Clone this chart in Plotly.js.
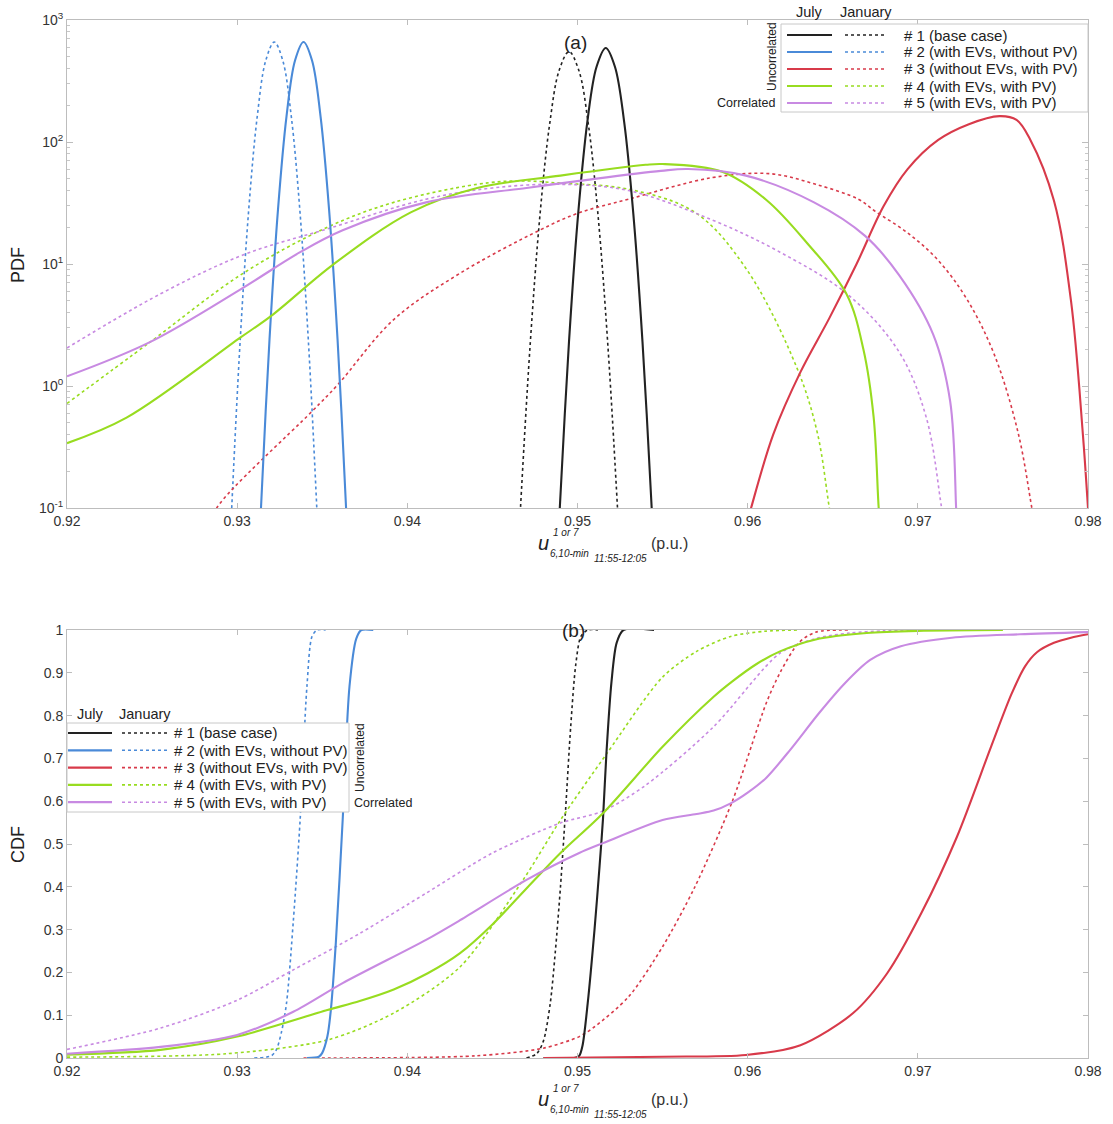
<!DOCTYPE html>
<html><head><meta charset="utf-8">
<script src="https://cdn.plot.ly/plotly-3.0.1.min.js"></script>
<style>body{margin:0;background:#fff}#chart{width:1113px;height:1124px}</style>
</head><body><div id="chart"></div>
<script>
// ---------------- DATA ----------------
const scenarioLabels = ['# 1 (base case)', '# 2 (with EVs, without PV)', '# 3 (without EVs, with PV)', '# 4 (with EVs, with PV)', '# 5 (with EVs, with PV)'];
const monthLabels = ['July', 'January'];
const xTicks = [0.92, 0.93, 0.94, 0.95, 0.96, 0.97, 0.98];
const cdfTicks = [0, 0.1, 0.2, 0.3, 0.4, 0.5, 0.6, 0.7, 0.8, 0.9, 1];
const pdfTicks = [0.1, 1, 10, 100, 1000];
const pdfTickText = ['10<sup>-1</sup>', '10<sup>0</sup>', '10<sup>1</sup>', '10<sup>2</sup>', '10<sup>3</sup>'];
const pdfMinorTicks = [0.2, 0.3, 0.4, 0.5, 0.6, 0.7, 0.8, 0.9, 2, 3, 4, 5, 6, 7, 8, 9, 20, 30, 40, 50, 60, 70, 80, 90, 200, 300, 400, 500, 600, 700, 800, 900];

// PDF (a) - July (solid)
const pdf1JulX = [0.94871, 0.94896, 0.9495, 0.95004, 0.95058, 0.95112, 0.95166, 0.9522, 0.95274, 0.95328, 0.95382, 0.95436, 0.95461];
const pdf1JulY = [0.021, 0.1, 2.3, 25.9, 147, 414, 590, 414, 147, 25.9, 2.3, 0.1, 0.021];
const pdf2JulX = [0.9312, 0.9314, 0.9319, 0.9324, 0.9329, 0.9334, 0.9339, 0.9344, 0.9349, 0.9354, 0.9359, 0.9364, 0.9366];
const pdf2JulY = [0.023, 0.1, 2.4, 28, 162, 465, 660, 465, 162, 28, 2.4, 0.1, 0.023];
const pdf3JulX = [0.9599, 0.9602, 0.9615, 0.9631, 0.9648, 0.9664, 0.968, 0.9694, 0.9712, 0.973, 0.9748, 0.9758, 0.9766, 0.978, 0.979, 0.9797, 0.98, 0.9801];
const pdf3JulY = [0.07, 0.1, 0.4, 1.3, 3.6, 10, 30, 60, 104, 140, 163, 152, 105, 33, 5, 0.4, 0.1, 0.06];
const pdf4JulX = [0.92, 0.9235, 0.9302, 0.9321, 0.9356, 0.9402, 0.9441, 0.949, 0.954, 0.955, 0.9585, 0.9611, 0.9635, 0.9658, 0.9668, 0.9674, 0.9677, 0.9678];
const pdf4JulY = [0.34, 0.55, 2.5, 3.85, 9.8, 26.5, 42, 53, 65, 66, 57, 33.5, 14.8, 5.7, 2.0, 0.56, 0.1, 0.07];
const pdf5JulX = [0.92, 0.9249, 0.9302, 0.9337, 0.9362, 0.9411, 0.947, 0.9501, 0.9549, 0.9565, 0.9599, 0.9639, 0.9669, 0.9689, 0.9709, 0.9719, 0.97225, 0.9723];
const pdf5JulY = [1.2, 2.3, 6.2, 12.5, 18.9, 32, 42, 48, 58, 60, 53, 32, 17, 8.1, 2.65, 0.75, 0.1, 0.07];

// PDF (a) - January (dotted)
const pdf1JanX = [0.9464, 0.94665, 0.94722, 0.94779, 0.94836, 0.94893, 0.9495, 0.95007, 0.95064, 0.95121, 0.95178, 0.95235, 0.9526];
const pdf1JanY = [0.021, 0.1, 2.2, 24.8, 139, 390, 550, 390, 139, 24.8, 2.2, 0.1, 0.021];
const pdf2JanX = [0.92948, 0.92968, 0.93018, 0.93068, 0.93118, 0.93168, 0.93218, 0.93268, 0.93318, 0.93368, 0.93418, 0.93468, 0.93488];
const pdf2JanY = [0.023, 0.1, 2.4, 28, 162, 465, 660, 465, 162, 28, 2.4, 0.1, 0.023];
const pdf3JanX = [0.9286, 0.9288, 0.9344, 0.9359, 0.9392, 0.9431, 0.9478, 0.95, 0.953, 0.9579, 0.9613, 0.964, 0.9665, 0.9675, 0.9694, 0.9712, 0.9729, 0.9745, 0.9759, 0.9767, 0.9769];
const pdf3JanY = [0.08, 0.1, 0.62, 1.02, 3.5, 8.4, 19, 26, 34, 51, 55, 45, 34, 27, 18, 10.7, 5.1, 1.8, 0.41, 0.1, 0.07];
const pdf4JanX = [0.92, 0.9249, 0.9303, 0.9353, 0.9392, 0.9441, 0.9465, 0.949, 0.953, 0.9569, 0.9599, 0.9629, 0.9641, 0.9648, 0.965];
const pdf4JanY = [0.72, 2.3, 8.3, 20, 32, 45, 48, 46, 41, 26.5, 9.2, 1.4, 0.41, 0.1, 0.07];
const pdf5JanX = [0.92, 0.9255, 0.9303, 0.9353, 0.9411, 0.945, 0.949, 0.953, 0.9579, 0.9619, 0.9659, 0.9689, 0.9705, 0.9714, 0.9716];
const pdf5JanY = [2.05, 5.7, 11.8, 19.4, 34, 42, 45, 40, 23, 12.5, 5.6, 1.9, 0.55, 0.1, 0.07];

// CDF (b) - July (solid)
const cdf1JulX = [0.948, 0.9498, 0.9501, 0.9503, 0.9506, 0.951, 0.9513, 0.9515, 0.9517, 0.952, 0.9523, 0.9527, 0.9545];
const cdf1JulY = [0, 0, 0.005, 0.03, 0.128, 0.3, 0.45, 0.56, 0.712, 0.88, 0.97, 1.0, 1.0];
const cdf2JulX = [0.9341, 0.9348, 0.935, 0.9353, 0.9355, 0.9358, 0.9362, 0.9366, 0.937, 0.9373, 0.938];
const cdf2JulY = [0, 0.003, 0.012, 0.05, 0.11, 0.27, 0.556, 0.868, 0.98, 1.0, 1.0];
const cdf3JulX = [0.948, 0.955, 0.9599, 0.9631, 0.9662, 0.9682, 0.9702, 0.9723, 0.9743, 0.9755, 0.9763, 0.977, 0.978, 0.979, 0.98];
const cdf3JulY = [0, 0.003, 0.007, 0.03, 0.105, 0.198, 0.338, 0.517, 0.727, 0.85, 0.915, 0.948, 0.97, 0.982, 0.99];
const cdf4JulX = [0.92, 0.9255, 0.93, 0.9353, 0.9372, 0.9392, 0.9412, 0.9431, 0.945, 0.947, 0.949, 0.9515, 0.955, 0.958, 0.9591, 0.9605, 0.9619, 0.964, 0.967, 0.97, 0.975];
const cdf4JulY = [0.008, 0.019, 0.05, 0.112, 0.133, 0.16, 0.198, 0.245, 0.312, 0.396, 0.479, 0.572, 0.727, 0.844, 0.88, 0.92, 0.95, 0.978, 0.993, 0.998, 1.0];
const cdf5JulX = [0.92, 0.9255, 0.93, 0.9333, 0.9362, 0.9411, 0.9431, 0.947, 0.9501, 0.9515, 0.955, 0.957, 0.958, 0.959, 0.96, 0.9611, 0.9625, 0.9642, 0.9657, 0.9672, 0.969, 0.972, 0.976, 0.98];
const cdf5JulY = [0.01, 0.026, 0.054, 0.108, 0.175, 0.276, 0.322, 0.416, 0.479, 0.502, 0.556, 0.57, 0.578, 0.595, 0.62, 0.655, 0.72, 0.806, 0.875, 0.93, 0.962, 0.982, 0.99, 0.995];

// CDF (b) - January (dotted)
const cdf1JanX = [0.947, 0.9476, 0.948, 0.9484, 0.9487, 0.949, 0.9493, 0.9496, 0.9499, 0.9502, 0.9506, 0.9512];
const cdf1JanY = [0, 0.01, 0.04, 0.128, 0.25, 0.4, 0.58, 0.774, 0.92, 0.985, 1.0, 1.0];
const cdf2JanX = [0.931, 0.932, 0.9323, 0.9326, 0.9329, 0.9333, 0.9337, 0.9341, 0.9344, 0.9347, 0.9352];
const cdf2JanY = [0, 0.005, 0.019, 0.06, 0.128, 0.32, 0.556, 0.868, 0.985, 1.0, 1.0];
const cdf3JanX = [0.9339, 0.944, 0.948, 0.9501, 0.951, 0.953, 0.955, 0.9569, 0.9591, 0.9611, 0.9619, 0.963, 0.964, 0.966];
const cdf3JanY = [0, 0.005, 0.023, 0.05, 0.073, 0.143, 0.26, 0.4, 0.6, 0.83, 0.9, 0.97, 0.995, 1.0];
const cdf4JanX = [0.92, 0.9294, 0.9353, 0.9392, 0.9431, 0.9468, 0.949, 0.9517, 0.955, 0.957, 0.959, 0.961, 0.963];
const cdf4JanY = [0.002, 0.01, 0.042, 0.105, 0.213, 0.416, 0.556, 0.71, 0.89, 0.95, 0.985, 0.997, 1.0];
const cdf5JanX = [0.92, 0.9255, 0.93, 0.9333, 0.9372, 0.9411, 0.945, 0.949, 0.9515, 0.954, 0.958, 0.9619, 0.964, 0.966, 0.968, 0.97];
const cdf5JanY = [0.02, 0.07, 0.135, 0.206, 0.291, 0.385, 0.479, 0.549, 0.577, 0.637, 0.774, 0.946, 0.98, 0.993, 0.998, 1.0];

// ---------------- STYLE ----------------
const colors = ['#222222', '#4a8ad8', '#d83a4a', '#98dc20', '#c88ae2'];
const FONT = 'Liberation Sans, Arial, sans-serif';

const pdfJul = [[pdf1JulX, pdf1JulY], [pdf2JulX, pdf2JulY], [pdf3JulX, pdf3JulY], [pdf4JulX, pdf4JulY], [pdf5JulX, pdf5JulY]];
const pdfJan = [[pdf1JanX, pdf1JanY], [pdf2JanX, pdf2JanY], [pdf3JanX, pdf3JanY], [pdf4JanX, pdf4JanY], [pdf5JanX, pdf5JanY]];
const cdfJul = [[cdf1JulX, cdf1JulY], [cdf2JulX, cdf2JulY], [cdf3JulX, cdf3JulY], [cdf4JulX, cdf4JulY], [cdf5JulX, cdf5JulY]];
const cdfJan = [[cdf1JanX, cdf1JanY], [cdf2JanX, cdf2JanY], [cdf3JanX, cdf3JanY], [cdf4JanX, cdf4JanY], [cdf5JanX, cdf5JanY]];

const traces = [];
function addTrace(d, i, dotted, xa, ya, smooth) {
  traces.push({
    x: d[0], y: d[1], xaxis: xa, yaxis: ya, type: 'scatter', mode: 'lines',
    name: scenarioLabels[i] + ' ' + (dotted ? monthLabels[1] : monthLabels[0]),
    showlegend: false, hoverinfo: 'skip',
    line: {color: colors[i], width: dotted ? 1.6 : 2.1, dash: dotted ? 'dot' : 'solid', shape: 'spline', smoothing: smooth}
  });
}
for (let i = 0; i < 5; i++) addTrace(pdfJan[i], i, true, 'x', 'y', 1);
for (let i = 0; i < 5; i++) addTrace(pdfJul[i], i, false, 'x', 'y', 1);
for (let i = 0; i < 5; i++) addTrace(cdfJan[i], i, true, 'x2', 'y2', 0.8);
for (let i = 0; i < 5; i++) addTrace(cdfJul[i], i, false, 'x2', 'y2', 0.8);

// ---------------- LAYOUT HELPERS ----------------
const W = 1113, H = 1124;
const M = {l: 67, r: 25, t: 20, b: 66};
const PW = W - M.l - M.r, PH = H - M.t - M.b;
const px = v => (v - M.l) / PW;
const py = v => (H - M.b - v) / PH;
const topBottomPx = 508, botTopPx = 630;

const shapes = [], annotations = [];
function text(t, x, y, opts) {
  annotations.push(Object.assign({text: t, x: px(x), y: py(y), xref: 'paper', yref: 'paper', showarrow: false,
    xanchor: 'left', yanchor: 'middle', font: {family: FONT, size: 14, color: '#222'}}, opts || {}));
}
function seg(x0, x1, y, color, dotted, width) {
  shapes.push({type: 'line', xref: 'paper', yref: 'paper', x0: px(x0), x1: px(x1), y0: py(y), y1: py(y),
    line: {color: color, width: width, dash: dotted ? 'dot' : 'solid'}});
}
function legend(box, hdrY, rowY0, rowDy, solidX, dotX, textX, uncX, uncY, corX, corY, corAnchor) {
  shapes.push({type: 'rect', xref: 'paper', yref: 'paper', x0: px(box[0]), x1: px(box[1]), y0: py(box[2]), y1: py(box[3]),
    fillcolor: '#ffffff', line: {color: '#c8c8c8', width: 1}, layer: 'above'});
  text(monthLabels[0], solidX[0] + (solidX[1] - solidX[0]) / 2, hdrY, {xanchor: 'center', font: {family: FONT, size: 14.5, color: '#222'}});
  text(monthLabels[1], dotX[0] + (dotX[1] - dotX[0]) / 2, hdrY, {xanchor: 'center', font: {family: FONT, size: 14.5, color: '#222'}});
  for (let i = 0; i < 5; i++) {
    const y = rowY0 + i * rowDy;
    seg(solidX[0], solidX[1], y, colors[i], false, 2.2);
    seg(dotX[0], dotX[1], y, colors[i], true, 1.6);
    text(scenarioLabels[i], textX, y, {font: {family: FONT, size: 15, color: '#222'}});
  }
  text('Uncorrelated', uncX, uncY, {xanchor: 'center', textangle: -90, font: {family: FONT, size: 12, color: '#222'}});
  text('Correlated', corX, corY, {xanchor: corAnchor, font: {family: FONT, size: 12.5, color: '#222'}});
}

// top legend (a)
legend([781, 1088, 24, 112], 12, 35, 17, [787, 832], [845, 886], 902, 772, 57, 777, 103, 'right');
// bottom legend (b)
legend([67, 349, 723, 812], 714, 733, 17.3, [68, 112], [122, 168], 172, 360, 758, 352, 803, 'left');

// panel labels
text('(a)', 575, 43, {xanchor: 'center', font: {family: FONT, size: 19, color: '#222'}});
text('(b)', 573, 630, {xanchor: 'center', font: {family: FONT, size: 19, color: '#222'}});

// x-axis titles
function xTitle(dy) {
  text('<i>u</i>', 536, 543 + dy, {font: {family: FONT, size: 20, color: '#222'}});
  text('<i>1 or 7</i>', 551, 532 + dy, {font: {family: FONT, size: 10, color: '#222'}});
  text('<i>6,10-min</i>', 548, 553 + dy, {font: {family: FONT, size: 10, color: '#222'}});
  text('<i>11:55-12:05</i>', 592, 558 + dy, {font: {family: FONT, size: 10, color: '#222'}});
  text('(p.u.)', 649, 543 + dy, {font: {family: FONT, size: 16, color: '#333'}});
}
xTitle(0);
xTitle(556);

// y-axis titles
text('PDF', 18, 265, {xanchor: 'center', textangle: -90, font: {family: FONT, size: 18, color: '#222'}});
text('CDF', 18, 845, {xanchor: 'center', textangle: -90, font: {family: FONT, size: 18, color: '#222'}});

const axisCommon = {
  showgrid: false, zeroline: false, showline: true, linecolor: '#bdbdbd', linewidth: 1,
  mirror: 'ticks', ticks: 'inside', ticklen: 5, tickcolor: '#bdbdbd',
  tickfont: {family: FONT, size: 14, color: '#333'}
};

const layout = {
  width: W, height: H, margin: M, paper_bgcolor: '#ffffff', plot_bgcolor: '#ffffff', showlegend: false,
  xaxis: Object.assign({}, axisCommon, {domain: [0, 1], anchor: 'y', range: [0.92, 0.98], tickmode: 'array', tickvals: xTicks, tickformat: '.2f'}),
  yaxis: Object.assign({}, axisCommon, {domain: [py(topBottomPx), 1], anchor: 'x', type: 'log', range: [-1, 3],
    tickmode: 'array', tickvals: pdfTicks, ticktext: pdfTickText, ticklen: 6,
    minor: {tickmode: 'array', tickvals: pdfMinorTicks, ticks: 'inside', ticklen: 3, tickcolor: '#c8c8c8', showgrid: false}}),
  xaxis2: Object.assign({}, axisCommon, {domain: [0, 1], anchor: 'y2', range: [0.92, 0.98], tickmode: 'array', tickvals: xTicks, tickformat: '.2f'}),
  yaxis2: Object.assign({}, axisCommon, {domain: [0, py(botTopPx)], anchor: 'x2', range: [0, 1], tickmode: 'array', tickvals: cdfTicks}),
  shapes: shapes, annotations: annotations
};

Plotly.newPlot('chart', traces, layout, {displayModeBar: false, staticPlot: true});
</script></body></html>
